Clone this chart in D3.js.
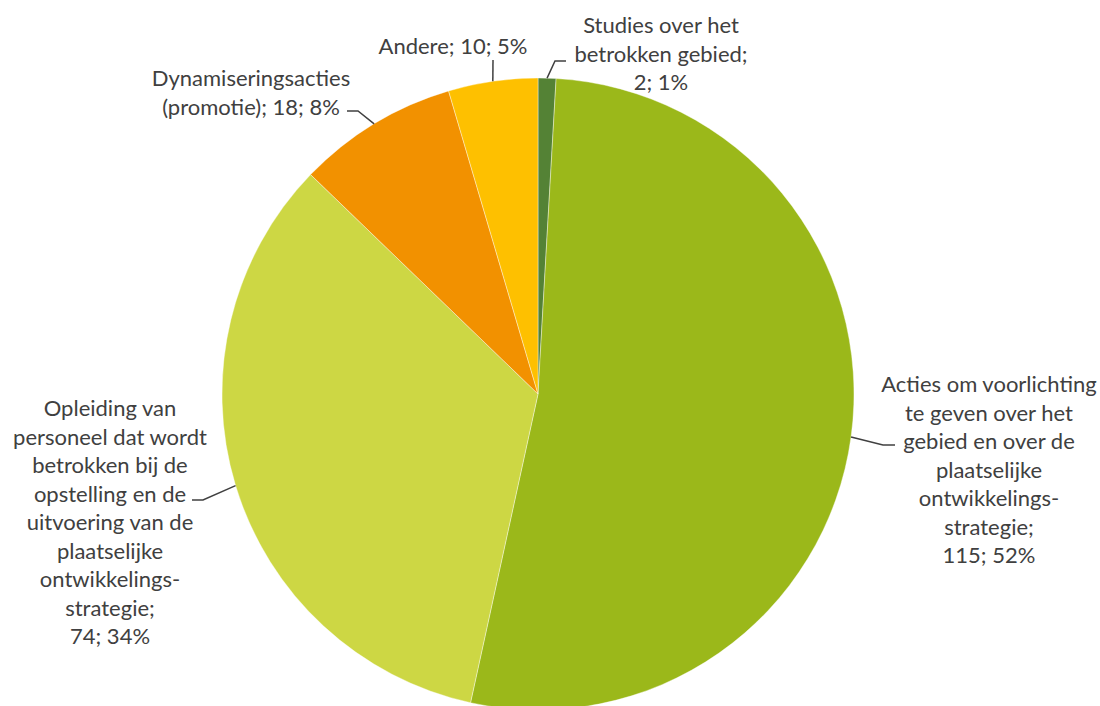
<!DOCTYPE html>
<html>
<head>
<meta charset="utf-8">
<script src="https://cdn.jsdelivr.net/npm/d3@7"></script>
<style>
  body { margin: 0; background: #fff; }
  svg { display: block; }
</style>
</head>
<body>
<div id="chart"></div>
<script>
// data in slice order, clockwise from 12 o'clock
const categories = [
    ['Studies over het', 'betrokken gebied;'],
    ['Acties om voorlichting', 'te geven over het', 'gebied en over de', 'plaatselijke', 'ontwikkelings-', 'strategie;'],
    ['Opleiding van', 'personeel dat wordt', 'betrokken bij de', 'opstelling en de', 'uitvoering van de', 'plaatselijke', 'ontwikkelings-', 'strategie;'],
    ['Dynamiseringsacties', '(promotie);'],
    ['Andere;']
];
const values = [2, 115, 74, 18, 10];
const percents = ['1%', '52%', '34%', '8%', '5%'];
const colors = ['#548235', '#9bb81a', '#cdd744', '#f29100', '#fec000'];

const width = 1100;
const height = 706;
const cx = 538, cy = 394, radius = 316;
const lineH = 28.5;

// label layout: text block centre x, first line y, leader bend points (page coords)
const labelLayout = [
    {x: 661, y: 24, bend: [[555, 61], [566, 61]]},
    {x: 989, y: 383, bend: [[883, 445], [895, 445]]},
    {x: 110, y: 407, bend: [[203, 500], [192, 500]]},
    {x: 251, y: 77, bend: [[358, 111], [347, 111]]},
    {x: 453, y: 45, bend: [[493, 60]]}
];

const svg = d3.select('#chart').append('svg')
    .attr('width', width)
    .attr('height', height);

const g = svg.append('g').attr('transform', `translate(${cx},${cy})`);

const pie = d3.pie().sort(null).value(d => d);
const arcs = pie(values);
const arc = d3.arc().innerRadius(0).outerRadius(radius);
const edge = d3.arc().innerRadius(radius).outerRadius(radius);

g.selectAll('path.slice')
    .data(arcs)
    .join('path')
    .attr('class', 'slice')
    .attr('d', arc)
    .attr('fill', (d, i) => colors[i])
    .attr('stroke', '#fff')
    .attr('stroke-width', 0.4);

// leader lines
svg.selectAll('path.leader')
    .data(arcs)
    .join('path')
    .attr('class', 'leader')
    .attr('fill', 'none')
    .attr('stroke', '#404040')
    .attr('stroke-width', 1.5)
    .attr('d', (d, i) => {
        const [ex, ey] = edge.centroid(d);
        const pts = [[cx + ex, cy + ey], ...labelLayout[i].bend];
        return d3.line()(pts);
    });

// labels
const labels = svg.selectAll('text.label')
    .data(arcs)
    .join('text')
    .attr('class', 'label')
    .attr('text-anchor', 'middle')
    .attr('dominant-baseline', 'central')
    .attr('font-family', 'Lato, "Open Sans", sans-serif')
    .attr('font-size', 22)
    .attr('fill', '#404040');

labels.each(function (d, i) {
    const lay = labelLayout[i];
    let lines = categories[i].slice();
    const tail = `${values[i]}; ${percents[i]}`;
    if (i === 3 || i === 4) {
        lines[lines.length - 1] += ' ' + tail;
    } else {
        lines.push(tail);
    }
    d3.select(this).selectAll('tspan')
        .data(lines)
        .join('tspan')
        .attr('x', lay.x)
        .attr('y', (t, k) => lay.y + k * lineH)
        .text(t => t);
});
</script>
</body>
</html>
